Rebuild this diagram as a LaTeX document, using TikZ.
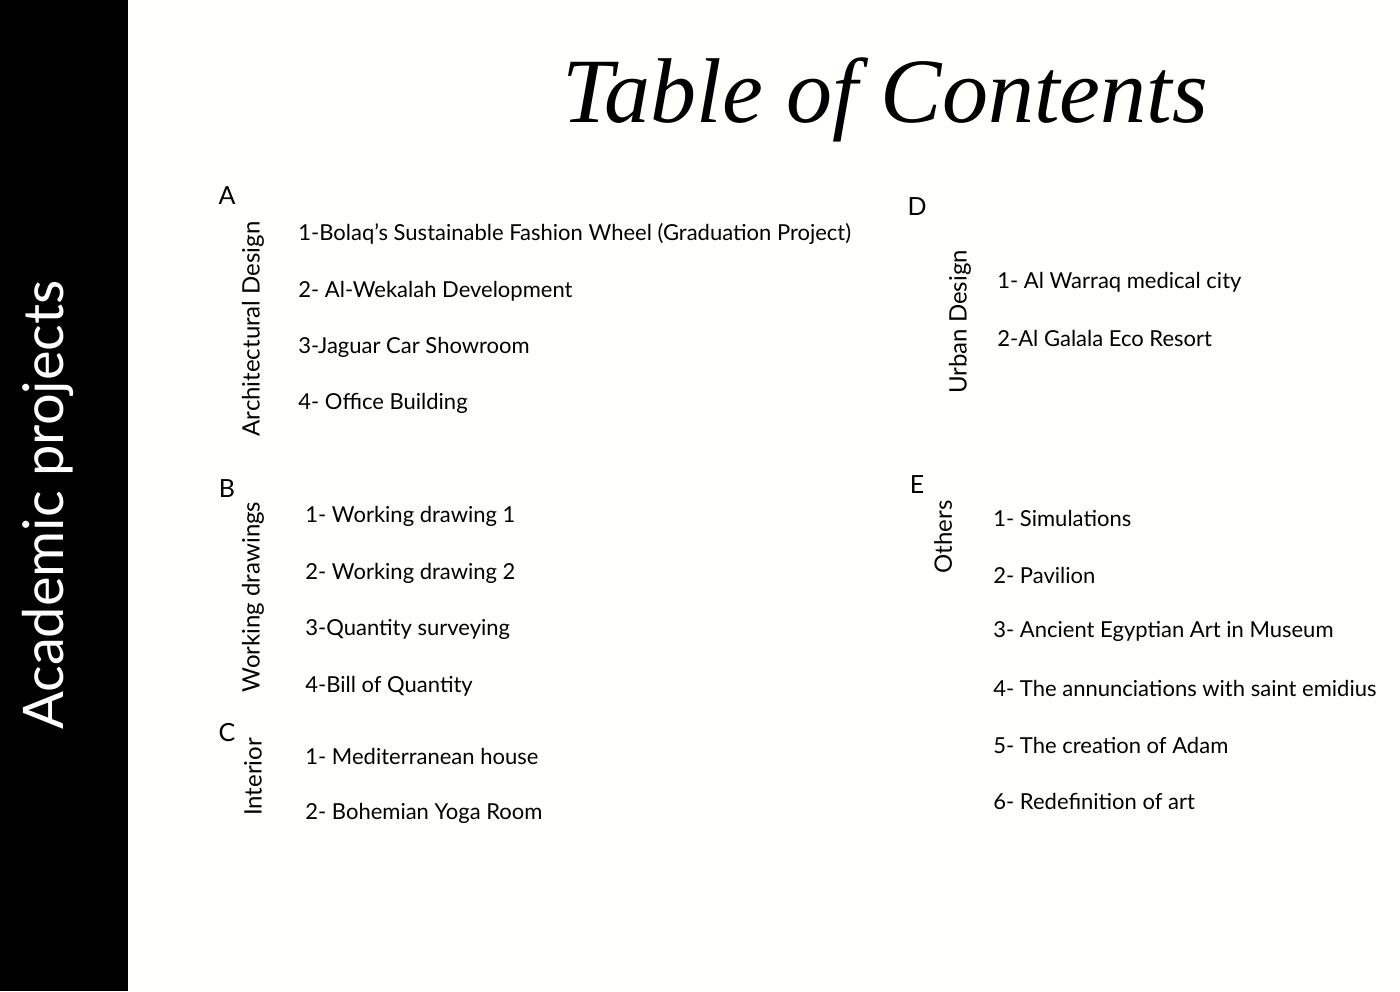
\documentclass[tikz,border=0pt]{standalone}
\usepackage{fontspec}
\setmainfont{Lato}
\newfontfamily\titlefont{Liberation Serif}
\begin{document}
\begin{tikzpicture}[x=0.5pt,y=-0.5pt,
  item/.style={anchor=west,font=\fontsize{11}{13}\selectfont,inner sep=0pt},
  cat/.style={rotate=90,font=\fontsize{12}{14}\selectfont,inner sep=0pt},
  letter/.style={font=\fontsize{12.5}{14}\selectfont,inner sep=0pt}]
\fill[white!99!yellow] (0,0) rectangle (1400,991);
\useasboundingbox (0,0) rectangle (1400,991);
\fill[black] (0,0) rectangle (128,991);
\node[rotate=90,text=white,font=\fontsize{28}{32}\selectfont,inner sep=0pt] (side) at (48,505) {Academic projects};
\node[font=\titlefont\itshape\fontsize{46}{50}\selectfont,inner sep=0pt] (title) at (885,100) {Table of Contents};
% A
\node[letter] (la) at (227,196) {A};
\node[cat] (ca) at (253,329) {Architectural Design};
\node[item] (a1) at (298,234) {1-Bolaq’s Sustainable Fashion Wheel (Graduation Project)};
\node[item] (a2) at (298,291) {2- Al-Wekalah Development};
\node[item] (a3) at (298,347) {3-Jaguar Car Showroom};
\node[item] (a4) at (298,403) {4- Office Building};
% B
\node[letter] (lb) at (227,489) {B};
\node[cat] (cb) at (253,597) {Working drawings};
\node[item] (b1) at (305,516) {1- Working drawing 1};
\node[item] (b2) at (305,573) {2- Working drawing 2};
\node[item] (b3) at (305,629) {3-Quantity surveying};
\node[item] (b4) at (305,686) {4-Bill of Quantity};
% C
\node[letter] (lc) at (227,733) {C};
\node[cat] (cc) at (253,777) {Interior};
\node[item] (c1) at (305,756) {1- Mediterranean house};
\node[item] (c2) at (305,813) {2- Bohemian Yoga Room};
% D
\node[letter] (ld) at (917,207) {D};
\node[cat] (cd) at (960,322) {Urban Design};
\node[item] (d1) at (997,282) {1- Al Warraq medical city};
\node[item] (d2) at (997,338) {2-Al Galala Eco Resort};
% E
\node[letter] (le) at (917,485) {E};
\node[cat] (ce) at (943,537) {Others};
\node[item] (e1) at (993,518) {1- Simulations};
\node[item] (e2) at (993,575) {2- Pavilion};
\node[item] (e3) at (993,631) {3- Ancient Egyptian Art in Museum};
\node[item] (e4) at (993,688) {4- The annunciations with saint emidius};
\node[item] (e5) at (993,745) {5- The creation of Adam};
\node[item] (e6) at (993,801) {6- Redefinition of art};
\end{tikzpicture}
\end{document}
